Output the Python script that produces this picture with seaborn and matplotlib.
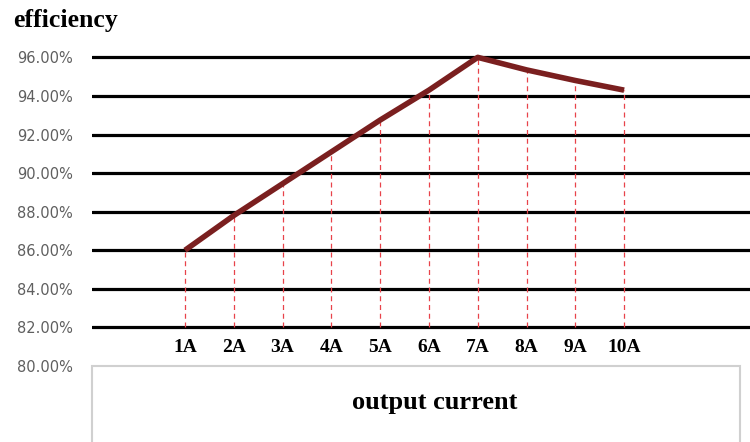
import matplotlib
matplotlib.use("Agg")
import matplotlib.pyplot as plt
import matplotlib.transforms as mtrans
import seaborn as sns
import pandas as pd
from matplotlib.patches import Rectangle

currents = ["1A", "2A", "3A", "4A", "5A", "6A", "7A", "8A", "9A", "10A"]
efficiency = [86.0, 87.8, 89.45, 91.1, 92.75, 94.3, 96.0, 95.35, 94.8, 94.3]
y_ticks = [80, 82, 84, 86, 88, 90, 92, 94, 96]
y_tick_labels = ["80.00%", "82.00%", "84.00%", "86.00%", "88.00%", "90.00%", "92.00%", "94.00%", "96.00%"]

sns.set_style("white")
W, H = 750, 442
fig = plt.figure(figsize=(W / 100, H / 100), dpi=100)

bottom_px = 366
top_px = 57 - 1.5 * 19.06
ax = fig.add_axes([92 / W, 1 - bottom_px / H, 1 - 92 / W, (bottom_px - top_px) / H])

df = pd.DataFrame({"pos": list(range(len(currents))), "eff": efficiency})

for yv in y_ticks[1:]:
    ax.axhline(yv, color="black", lw=2.3, zorder=1)

ax.vlines(df["pos"], 82, df["eff"], colors="#e8434a", linestyles=(0, (4, 3)), lw=0.9, zorder=2)

sns.lineplot(data=df, x="pos", y="eff", ax=ax, color="#7a1f1f", lw=4.0, zorder=3,
             solid_capstyle="butt")

ax.set_xlim(-1.906, 11.58)
ax.set_ylim(80, 97.5)
ax.set_xlabel("")
ax.set_ylabel("")
for s in ax.spines.values():
    s.set_visible(False)

ax.set_yticks(y_ticks)
ax.set_yticklabels(y_tick_labels, color="#5f5f5f", fontsize=10.5, family="DejaVu Sans")
ax.tick_params(axis="y", length=0, pad=13.5)
ax.set_xticks([])

blend = mtrans.blended_transform_factory(ax.transData, fig.transFigure)
for i, lab in enumerate(currents):
    ax.text(i, 1 - 348 / H, lab, transform=blend, ha="center", va="center",
            fontsize=14, fontweight="bold", family="Liberation Serif", color="black",
            clip_on=False)

box = Rectangle((92 / W, -0.05), (740 - 92) / W, 0.05 + (H - 366) / H,
                transform=fig.transFigure, facecolor="white", edgecolor="#d0d0d0",
                lw=1.5, zorder=5)
fig.patches.append(box)

fig.text(435 / W, 1 - 402 / H, "output current", ha="center", va="center",
         fontsize=19, fontweight="bold", family="Liberation Serif", color="black", zorder=6)
fig.text(13 / W, 1 - 20 / H, "efficiency", ha="left", va="center",
         fontsize=18.5, fontweight="bold", family="Liberation Serif", color="black")

fig.savefig("out.png", dpi=100)
